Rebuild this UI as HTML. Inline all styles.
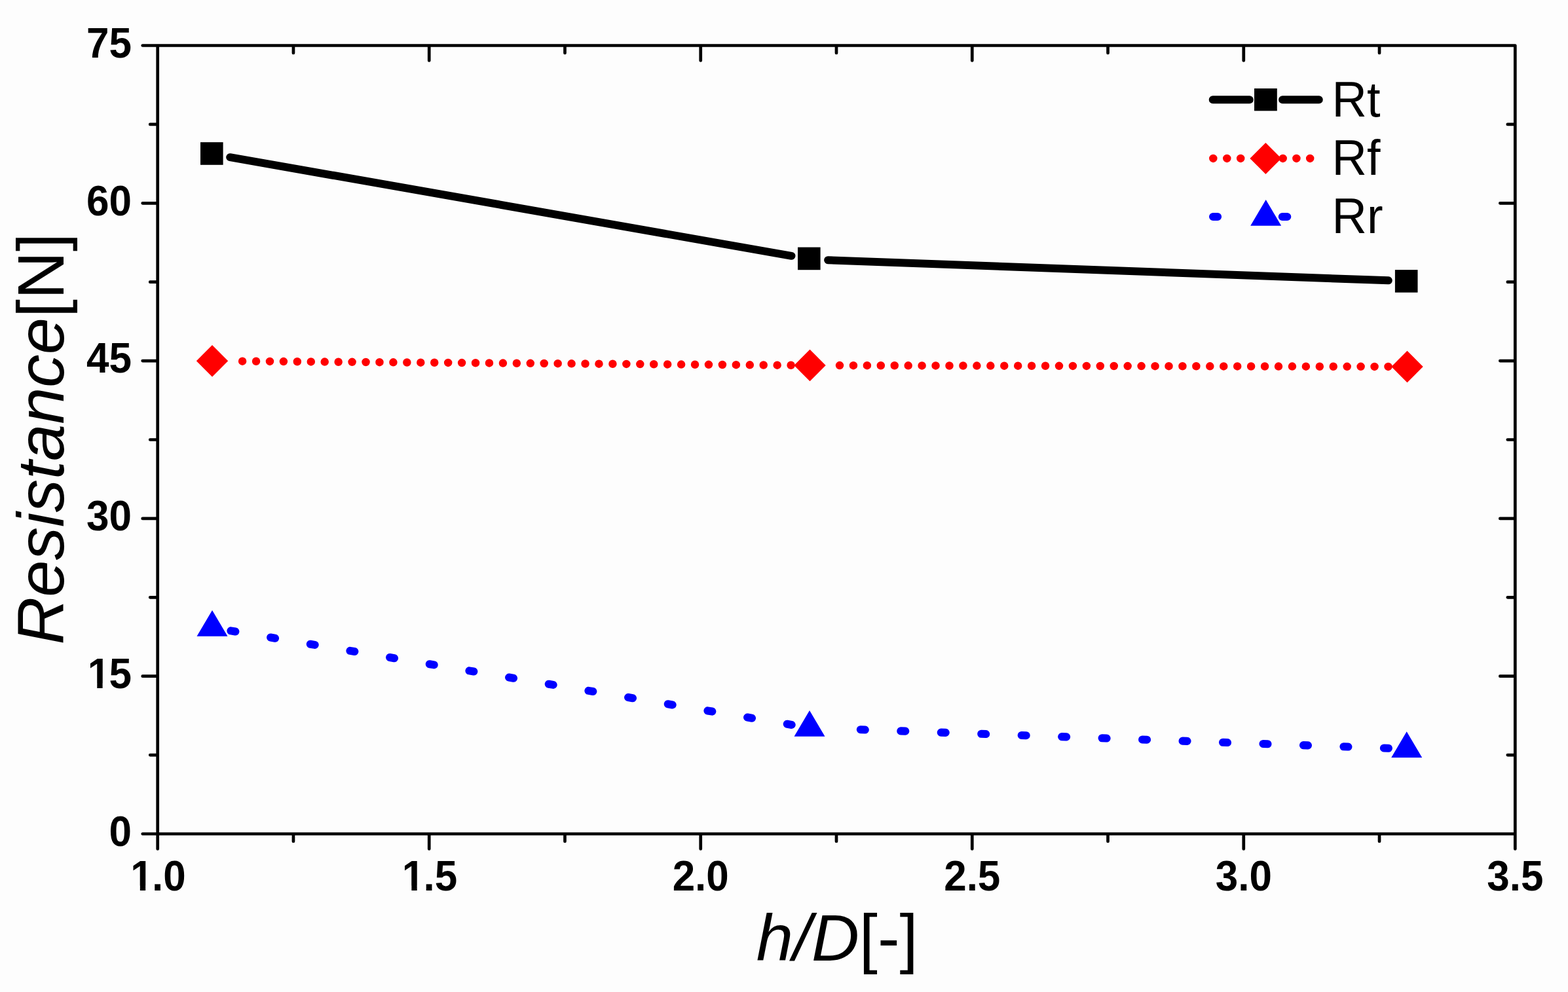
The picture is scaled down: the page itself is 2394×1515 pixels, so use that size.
<!DOCTYPE html>
<html><head><meta charset="utf-8"><title>Resistance vs h/D</title>
<style>html,body{margin:0;padding:0;background:#fdfdfd;overflow:hidden}svg{display:block}</style>
</head><body>
<svg width="2394" height="1515" viewBox="0 0 2394 1515">
<rect width="2394" height="1515" fill="#fdfdfd"/>
<path d="M217.70 69.5H2313.3M240.7 69.5V1296.5M217.70 1273.5H2313.3M2313.3 69.5V1296.5M229.20 1153.10H240.7M2301.80 1153.10H2313.3M217.70 1032.70H240.7M2290.30 1032.70H2313.3M229.20 912.30H240.7M2301.80 912.30H2313.3M217.70 791.90H240.7M2290.30 791.90H2313.3M229.20 671.50H240.7M2301.80 671.50H2313.3M217.70 551.10H240.7M2290.30 551.10H2313.3M229.20 430.70H240.7M2301.80 430.70H2313.3M217.70 310.30H240.7M2290.30 310.30H2313.3M229.20 189.90H240.7M2301.80 189.90H2313.3M447.96 1273.5V1285.00M447.96 69.5V81.00M655.22 1273.5V1296.50M655.22 69.5V92.50M862.48 1273.5V1285.00M862.48 69.5V81.00M1069.74 1273.5V1296.50M1069.74 69.5V92.50M1277.00 1273.5V1285.00M1277.00 69.5V81.00M1484.26 1273.5V1296.50M1484.26 69.5V92.50M1691.52 1273.5V1285.00M1691.52 69.5V81.00M1898.78 1273.5V1296.50M1898.78 69.5V92.50M2106.04 1273.5V1285.00M2106.04 69.5V81.00" fill="none" stroke="#000" stroke-width="4.7" stroke-linecap="round" stroke-linejoin="round"/>
<g font-family="Liberation Sans, sans-serif" font-weight="bold" font-size="62" fill="#000">
<g transform="matrix(1 0 0 1.04 166.52 1291.7)"><text>0</text></g>
<g transform="matrix(1 0 0 1.04 132.04 1050.9)"><text dx="1.7 -1.7">15</text><path d="M4.18 -6.94H16.24V1.24H4.18ZM24.55 -6.94H35.80V1.24H24.55Z" fill="#fdfdfd"/></g>
<g transform="matrix(1 0 0 1.04 132.04 810.1)"><text>30</text></g>
<g transform="matrix(1 0 0 1.04 132.04 569.3)"><text>45</text></g>
<g transform="matrix(1 0 0 1.04 132.04 328.5)"><text>60</text></g>
<g transform="matrix(1 0 0 1.04 132.04 87.7)"><text>75</text></g>
<g transform="matrix(1 0 0 1.035 197.61 1359.9)"><text dx="1.7 -1.7">1.0</text><path d="M4.18 -6.94H16.24V1.24H4.18ZM24.55 -6.94H35.80V1.24H24.55Z" fill="#fdfdfd"/></g>
<g transform="matrix(1 0 0 1.035 612.13 1359.9)"><text dx="1.7 -1.7">1.5</text><path d="M4.18 -6.94H16.24V1.24H4.18ZM24.55 -6.94H35.80V1.24H24.55Z" fill="#fdfdfd"/></g>
<g transform="matrix(1 0 0 1.035 1026.65 1359.9)"><text>2.0</text></g>
<g transform="matrix(1 0 0 1.035 1441.17 1359.9)"><text>2.5</text></g>
<g transform="matrix(1 0 0 1.035 1855.69 1359.9)"><text>3.0</text></g>
<g transform="matrix(1 0 0 1.035 2270.21 1359.9)"><text>3.5</text></g>
</g>
<text x="1154.7" y="1467.1" font-family="Liberation Sans, sans-serif" font-size="101" fill="#000"><tspan font-style="italic">h/D</tspan>[-]</text>
<text transform="translate(97.1 984.6) rotate(-90)" font-family="Liberation Sans, sans-serif" font-size="101" fill="#000"><tspan font-style="italic">Resistance</tspan>[N]</text>
<path d="M351.2 240.15L1208.45 390.8M1264.1 397.2L2119.8 428.35" stroke="#000" stroke-width="12.0" stroke-linecap="round" fill="none"/>
<rect x="306.00" y="217.20" width="34.6" height="34.6" fill="#000"/>
<rect x="1218.00" y="377.60" width="34.6" height="34.6" fill="#000"/>
<rect x="2129.90" y="412.10" width="34.6" height="34.6" fill="#000"/>
<path d="M370.10 551.64h0M391.04 551.79h0M411.98 551.95h0M432.91 552.10h0M453.85 552.25h0M474.79 552.41h0M495.73 552.56h0M516.66 552.71h0M537.60 552.87h0M558.54 553.02h0M579.47 553.18h0M600.41 553.33h0M621.35 553.48h0M642.29 553.64h0M663.22 553.79h0M684.16 553.94h0M705.10 554.10h0M726.04 554.25h0M746.97 554.41h0M767.91 554.56h0M788.85 554.71h0M809.79 554.87h0M830.72 555.02h0M851.66 555.17h0M872.60 555.33h0M893.54 555.48h0M914.47 555.64h0M935.41 555.79h0M956.35 555.94h0M977.29 556.10h0M998.22 556.25h0M1019.16 556.40h0M1040.10 556.56h0M1061.04 556.71h0M1081.97 556.87h0M1102.91 557.02h0M1123.85 557.17h0M1144.79 557.33h0M1165.72 557.48h0M1186.66 557.63h0M1207.60 557.79h0M1282.00 558.10h0M1302.94 558.15h0M1323.88 558.19h0M1344.81 558.24h0M1365.75 558.28h0M1386.69 558.33h0M1407.62 558.38h0M1428.56 558.42h0M1449.50 558.47h0M1470.44 558.51h0M1491.38 558.56h0M1512.31 558.60h0M1533.25 558.65h0M1554.19 558.70h0M1575.12 558.74h0M1596.06 558.79h0M1617.00 558.83h0M1637.94 558.88h0M1658.88 558.93h0M1679.81 558.97h0M1700.75 559.02h0M1721.69 559.06h0M1742.62 559.11h0M1763.56 559.16h0M1784.50 559.20h0M1805.44 559.25h0M1826.38 559.29h0M1847.31 559.34h0M1868.25 559.39h0M1889.19 559.43h0M1910.12 559.48h0M1931.06 559.52h0M1952.00 559.57h0M1972.94 559.61h0M1993.88 559.66h0M2014.81 559.71h0M2035.75 559.75h0M2056.69 559.80h0M2077.62 559.84h0M2098.56 559.89h0M2119.50 559.94h0" stroke="#f00" stroke-width="12.5" stroke-linecap="round" fill="none"/>
<path d="M324 527.0999999999999L348.2 551.3L324 575.5L299.8 551.3Z" fill="#f00"/>
<path d="M1236.5 533.8L1260.7 558L1236.5 582.2L1212.3 558Z" fill="#f00"/>
<path d="M2148.5 535.8L2172.7 560L2148.5 584.2L2124.3 560Z" fill="#f00"/>
<path d="M352.45 963.37l6.90 1.16M413.11 973.54l6.90 1.16M473.78 983.71l6.90 1.16M534.44 993.88l6.90 1.16M595.11 1004.05l6.90 1.16M655.77 1014.22l6.90 1.16M716.43 1024.39l6.90 1.16M777.10 1034.56l6.90 1.16M837.76 1044.73l6.90 1.16M898.43 1054.90l6.90 1.16M959.09 1065.08l6.90 1.16M1019.76 1075.25l6.90 1.16M1080.42 1085.42l6.90 1.16M1141.08 1095.59l6.90 1.16M1201.75 1105.76l6.90 1.16M1313.80 1114.25l7.00 0.25M1375.27 1116.42l7.00 0.25M1436.74 1118.59l7.00 0.25M1498.21 1120.76l7.00 0.25M1559.68 1122.93l7.00 0.25M1621.15 1125.10l7.00 0.25M1682.62 1127.27l7.00 0.25M1744.09 1129.44l7.00 0.25M1805.56 1131.62l7.00 0.25M1867.03 1133.79l7.00 0.25M1928.49 1135.96l7.00 0.25M1989.96 1138.13l7.00 0.25M2051.43 1140.30l7.00 0.25M2112.90 1142.47l7.00 0.25" stroke="#00f" stroke-width="12.1" stroke-linecap="round" fill="none"/>
<path d="M324 932.07L347.50 971.87L300.50 971.87Z" fill="#00f"/>
<path d="M1236 1084.97L1259.50 1124.77L1212.50 1124.77Z" fill="#00f"/>
<path d="M2147.7 1117.17L2171.20 1156.97L2124.20 1156.97Z" fill="#00f"/>
<path d="M1851.7 152.2H1907.8M1958.1 152.2H2013.8" stroke="#000" stroke-width="12.0" stroke-linecap="round"/>
<rect x="1915.0" y="135.1" width="34.8" height="34.2" fill="#000"/>
<path d="M1852.3 241.9h0M1873.3 241.9h0M1894.2 241.9h0M1958.7 241.9h0M1979.4 241.9h0M2000.2 241.9h0" stroke="#f00" stroke-width="12.5" stroke-linecap="round"/>
<path d="M1932.4 217.9L1956.4 241.9L1932.4 265.9L1908.4 241.9Z" fill="#f00"/>
<path d="M1852.05 331.0h7M1957.85 331.0h7.4" stroke="#00f" stroke-width="12.1" stroke-linecap="round"/>
<path d="M1932.7 305.07L1956.20 344.87L1909.20 344.87Z" fill="#00f"/>
<g font-family="Liberation Sans, sans-serif" font-size="74" fill="#000">
<text transform="matrix(1 0 0 1.037 2033.6 177.8)">Rt</text>
<text transform="matrix(1 0 0 1.025 2033.6 266.8)">Rf</text>
<text transform="matrix(1 0 0 1.025 2033.6 356.0)">Rr</text>
</g>
</svg>
</body></html>
